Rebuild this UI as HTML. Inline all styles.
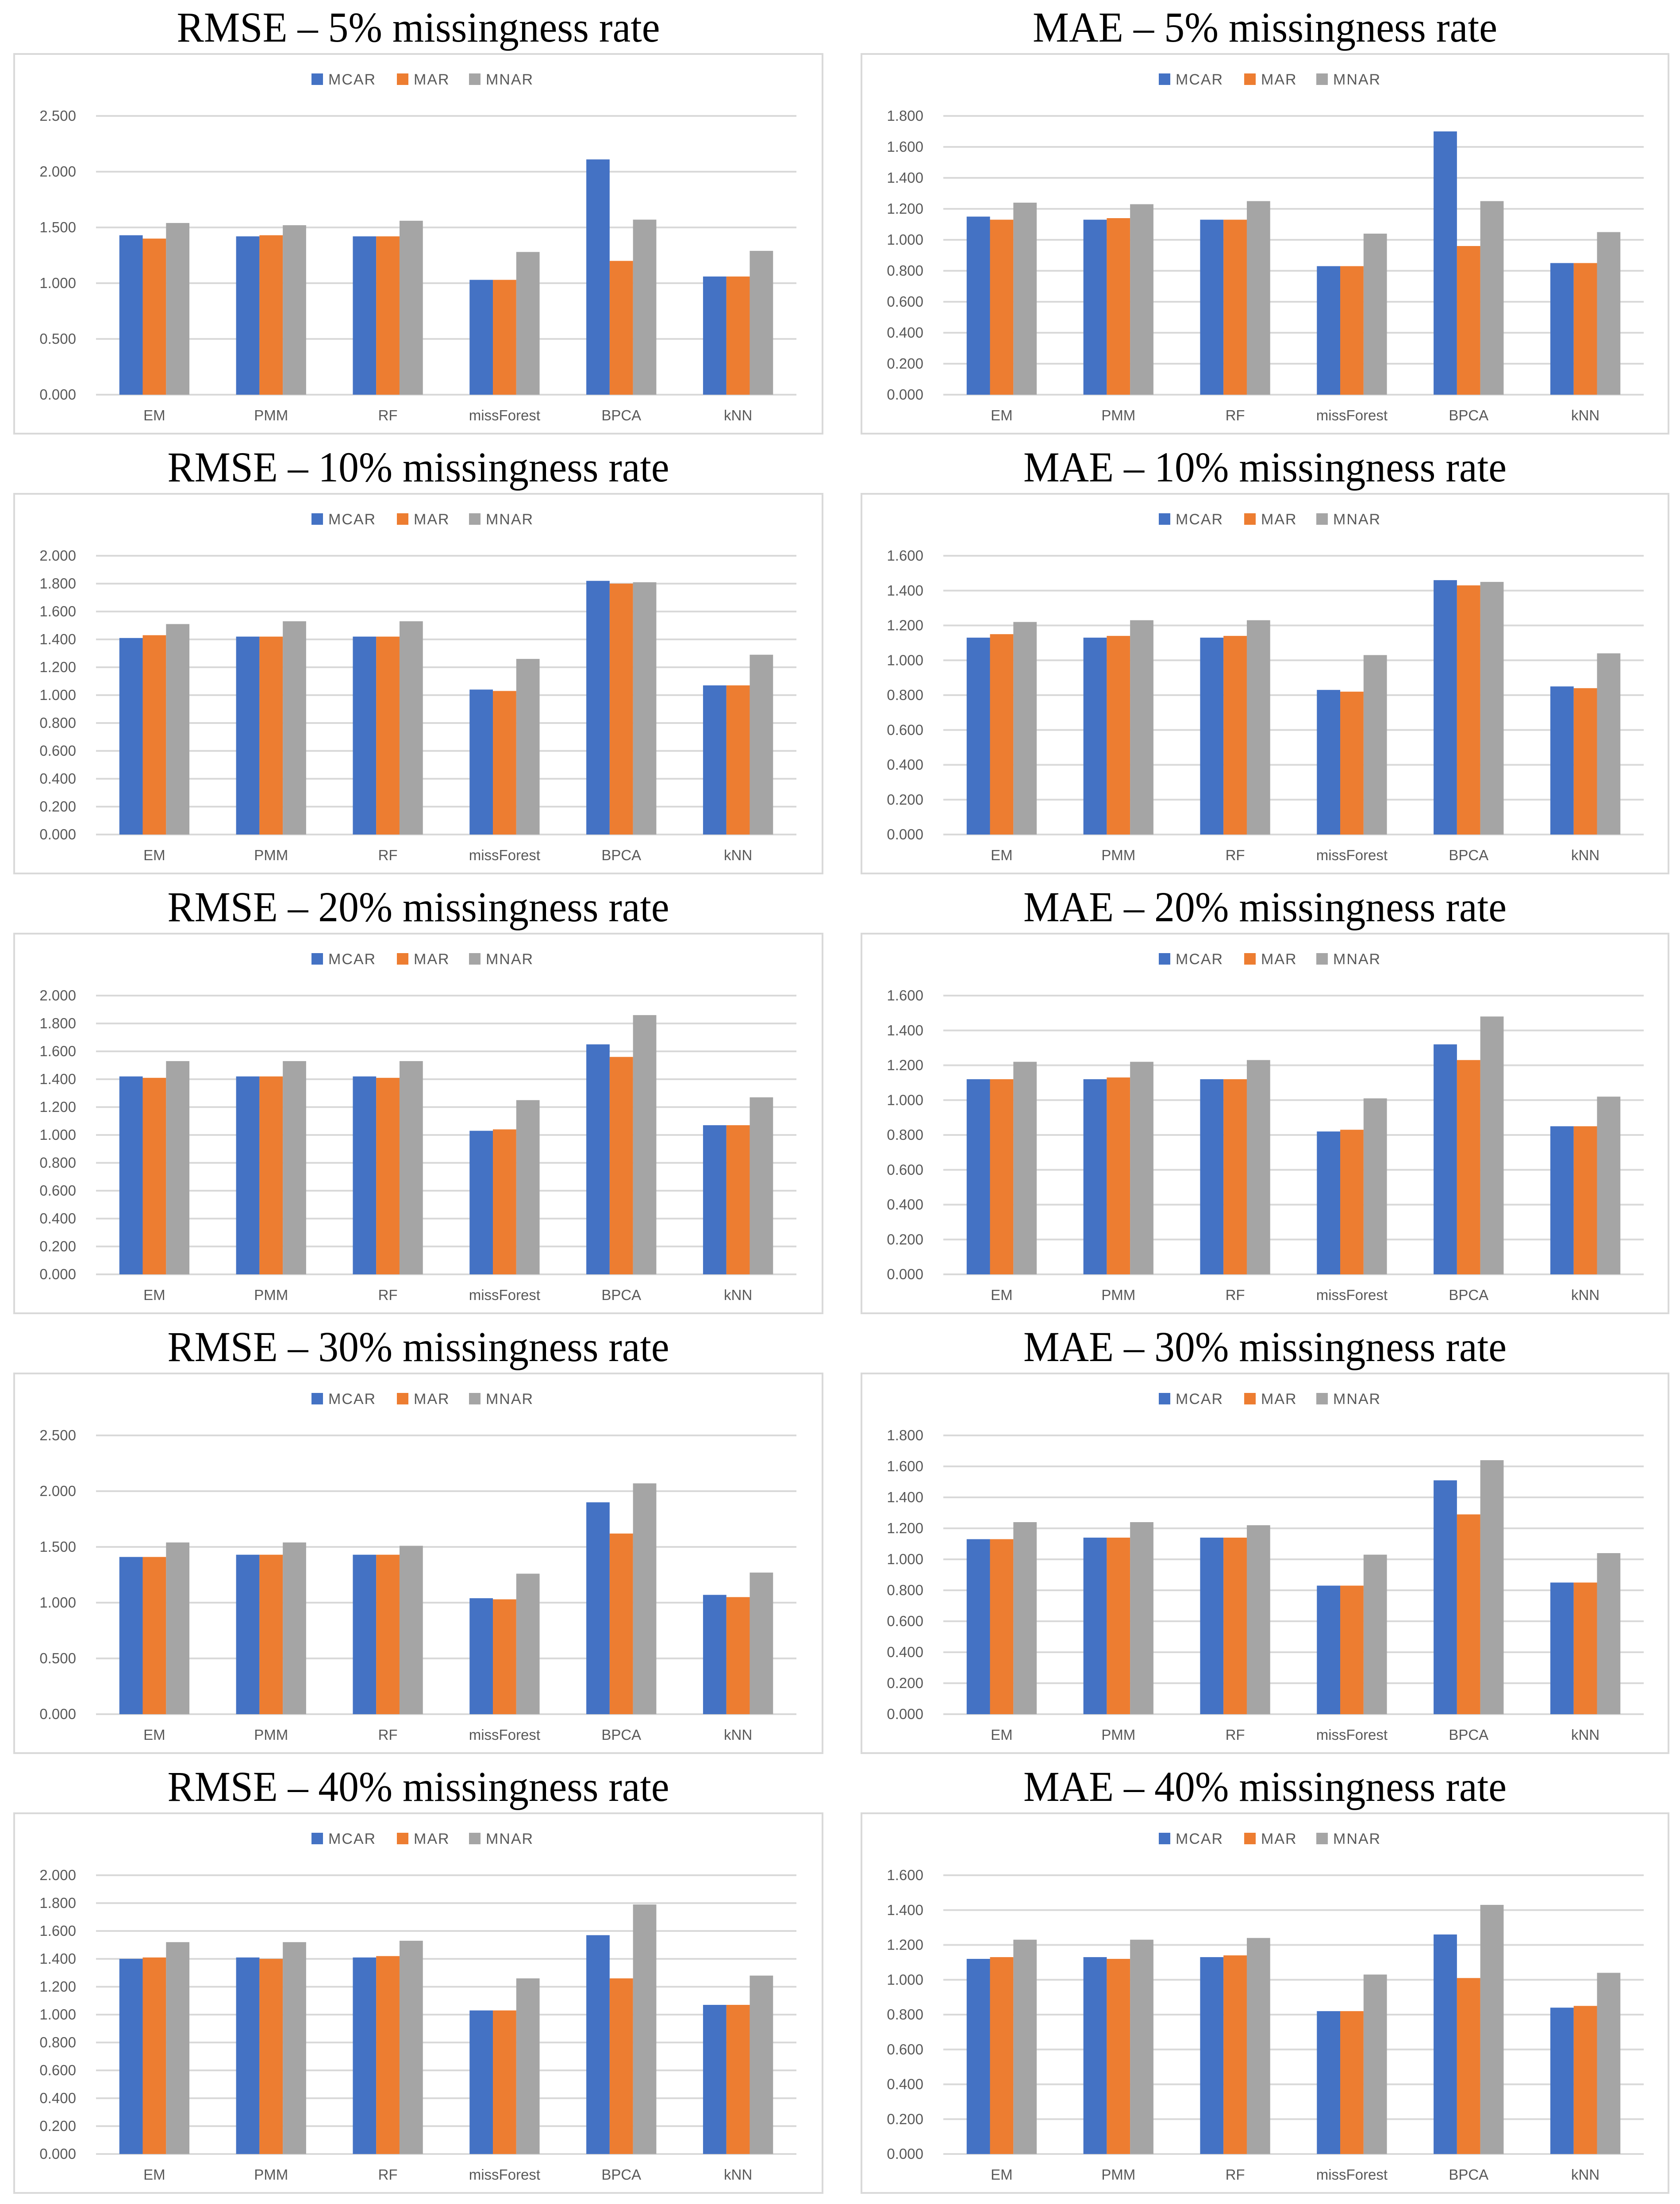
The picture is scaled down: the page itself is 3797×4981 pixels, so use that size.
<!DOCTYPE html>
<html><head><meta charset="utf-8"><style>
html,body{margin:0;padding:0;background:#fff;}
svg{display:block;}
</style></head><body>
<svg id="fig" width="3797" height="4981" viewBox="0 0 3797 4981" xmlns="http://www.w3.org/2000/svg"></svg>
<script>
const categories = ["EM","PMM","RF","missForest","BPCA","kNN"];
const seriesNames = ["MCAR","MAR","MNAR"];
const colors = ["#4472C4","#ED7D31","#A5A5A5"];

const rmse5_mcar = [1.43,1.42,1.42,1.03,2.11,1.06];
const rmse5_mar  = [1.40,1.43,1.42,1.03,1.20,1.06];
const rmse5_mnar = [1.54,1.52,1.56,1.28,1.57,1.29];
const mae5_mcar = [1.15,1.13,1.13,0.83,1.70,0.85];
const mae5_mar  = [1.13,1.14,1.13,0.83,0.96,0.85];
const mae5_mnar = [1.24,1.23,1.25,1.04,1.25,1.05];
const rmse10_mcar = [1.41,1.42,1.42,1.04,1.82,1.07];
const rmse10_mar  = [1.43,1.42,1.42,1.03,1.80,1.07];
const rmse10_mnar = [1.51,1.53,1.53,1.26,1.81,1.29];
const mae10_mcar = [1.13,1.13,1.13,0.83,1.46,0.85];
const mae10_mar  = [1.15,1.14,1.14,0.82,1.43,0.84];
const mae10_mnar = [1.22,1.23,1.23,1.03,1.45,1.04];
const rmse20_mcar = [1.42,1.42,1.42,1.03,1.65,1.07];
const rmse20_mar  = [1.41,1.42,1.41,1.04,1.56,1.07];
const rmse20_mnar = [1.53,1.53,1.53,1.25,1.86,1.27];
const mae20_mcar = [1.12,1.12,1.12,0.82,1.32,0.85];
const mae20_mar  = [1.12,1.13,1.12,0.83,1.23,0.85];
const mae20_mnar = [1.22,1.22,1.23,1.01,1.48,1.02];
const rmse30_mcar = [1.41,1.43,1.43,1.04,1.90,1.07];
const rmse30_mar  = [1.41,1.43,1.43,1.03,1.62,1.05];
const rmse30_mnar = [1.54,1.54,1.51,1.26,2.07,1.27];
const mae30_mcar = [1.13,1.14,1.14,0.83,1.51,0.85];
const mae30_mar  = [1.13,1.14,1.14,0.83,1.29,0.85];
const mae30_mnar = [1.24,1.24,1.22,1.03,1.64,1.04];
const rmse40_mcar = [1.40,1.41,1.41,1.03,1.57,1.07];
const rmse40_mar  = [1.41,1.40,1.42,1.03,1.26,1.07];
const rmse40_mnar = [1.52,1.52,1.53,1.26,1.79,1.28];
const mae40_mcar = [1.12,1.13,1.13,0.82,1.26,0.84];
const mae40_mar  = [1.13,1.12,1.14,0.82,1.01,0.85];
const mae40_mnar = [1.23,1.23,1.24,1.03,1.43,1.04];

const titles = ["RMSE – 5% missingness rate","MAE – 5% missingness rate",
"RMSE – 10% missingness rate","MAE – 10% missingness rate",
"RMSE – 20% missingness rate","MAE – 20% missingness rate",
"RMSE – 30% missingness rate","MAE – 30% missingness rate",
"RMSE – 40% missingness rate","MAE – 40% missingness rate"];
const yMax = [2.5,1.8,2.0,1.6,2.0,1.6,2.5,1.8,2.0,1.6];
const yStep = [0.5,0.2,0.2,0.2,0.2,0.2,0.5,0.2,0.2,0.2];
const panelData = [
 [rmse5_mcar,rmse5_mar,rmse5_mnar],[mae5_mcar,mae5_mar,mae5_mnar],
 [rmse10_mcar,rmse10_mar,rmse10_mnar],[mae10_mcar,mae10_mar,mae10_mnar],
 [rmse20_mcar,rmse20_mar,rmse20_mnar],[mae20_mcar,mae20_mar,mae20_mnar],
 [rmse30_mcar,rmse30_mar,rmse30_mnar],[mae30_mcar,mae30_mar,mae30_mnar],
 [rmse40_mcar,rmse40_mar,rmse40_mnar],[mae40_mcar,mae40_mar,mae40_mnar]];

const NS="http://www.w3.org/2000/svg";
const svg=document.getElementById('fig');
function mk(tag,attrs,parent){const e=document.createElementNS(NS,tag);for(const k in attrs)e.setAttribute(k,attrs[k]);(parent||svg).appendChild(e);return e;}
const axisFont='"Liberation Sans Narrow","Liberation Sans",sans-serif';

for(let p=0;p<10;p++){
  const col=p%2,row=Math.floor(p/2);
  const bx=col===0?32:1947, by=122+row*994, bw=col===0?1827:1824, bh=858;
  const g=mk('g',{});
  
  
  const tw=titles[p].length*42;
  const t=mk('text',{x:bx+bw/2,y:by-28,'text-anchor':'middle','font-family':'"Liberation Serif",serif','font-size':96,fill:'#000',textLength:tw,lengthAdjust:'spacingAndGlyphs'},g);
  t.textContent=titles[p];
  
  
  const box=mk('rect',{x:bx,y:by,width:bw,height:bh,fill:'#fff',stroke:'#D9D9D9','stroke-width':4},g);
  
  
  const px0=bx+185, px1=bx+1768, py0=by+140, py1=by+770;
  const ys=v=>py1-(v/yMax[p])*(py1-py0);
  const nT=Math.round(yMax[p]/yStep[p]);
  for(let i=0;i<=nT;i++){
    const v=i*yStep[p], y=ys(v);
    const gl=mk('line',{x1:px0,x2:px1,y1:y,y2:y,stroke:'#D9D9D9','stroke-width':4},g);
    
    
    const tl=mk('text',{x:px0-45,y:y+11,'text-anchor':'end','font-family':axisFont,'font-size':33,fill:'#595959'},g);
    tl.textContent=v.toFixed(3);
    
    
  }
  const cw=(px1-px0)/categories.length, barW=cw*0.2;
  for(let c=0;c<categories.length;c++){
    const cx=px0+cw*(c+0.5);
    for(let s=0;s<3;s++){
      const v=panelData[p][s][c];
      const r=mk('rect',{x:cx-1.5*barW+s*barW,y:ys(v),width:barW,height:ys(0)-ys(v),fill:colors[s]},g);
      
      
    }
    const cl=mk('text',{x:cx,y:by+828,'text-anchor':'middle','font-family':axisFont,'font-size':33,fill:'#595959'},g);
    cl.textContent=categories[c];
    
    
  }
  const lx=[bx+672,bx+865,bx+1028];
  for(let s=0;s<3;s++){
    const lg=mk('g',{},g);
    
    
    mk('rect',{x:lx[s],y:by+44,width:26,height:26,fill:colors[s]},lg);
    const lt=mk('text',{x:lx[s]+38,y:by+69,'font-family':axisFont,'font-size':34,fill:'#595959','letter-spacing':'2'},lg);
    lt.textContent=seriesNames[s];
  }
}
</script>
</body></html>
